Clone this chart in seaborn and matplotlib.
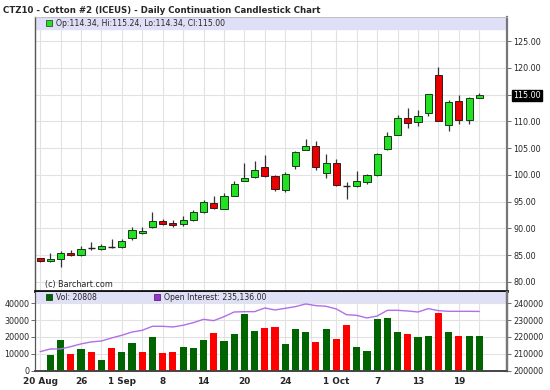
import matplotlib
matplotlib.use("Agg")
import matplotlib.pyplot as plt
import seaborn as sns
import pandas as pd
import numpy as np

# daily cotton CTZ10, 20 Aug .. 21 Oct (trading days)
tick_pos = [0, 4, 8, 12, 16, 20, 24, 29, 33, 37, 41]
tick_labels = ["20 Aug", "26", "1 Sep", "8", "14", "20", "24", "1 Oct", "7", "13", "19"]

opens = [84.4, 83.9, 84.3, 85.4, 85.1, 86.4, 86.2, 86.6, 86.5, 88.2, 89.2, 90.2, 91.3, 91.0, 90.8,
         91.6, 93.0, 94.7, 93.7, 96.1, 98.9, 99.7, 101.4, 99.8, 97.2, 101.6, 104.7, 105.5, 100.3,
         102.2, 98.0, 97.9, 98.7, 99.9, 104.8, 107.5, 110.6, 109.9, 111.5, 118.7, 109.4, 113.8,
         110.2, 114.34]
highs = [84.5, 85.5, 85.8, 85.9, 86.8, 87.4, 87.0, 88.0, 88.0, 90.2, 90.2, 93.0, 91.7, 91.5, 92.4,
         93.5, 95.4, 96.1, 96.6, 98.9, 102.2, 102.6, 103.7, 100.0, 100.6, 104.4, 106.7, 106.3, 103.9,
         103.0, 98.7, 100.7, 100.2, 104.1, 108.0, 111.3, 112.6, 112.1, 115.2, 120.1, 114.1, 115.0,
         114.6, 115.24]
lows = [83.7, 83.8, 82.8, 84.8, 84.9, 86.0, 86.0, 86.3, 86.3, 87.9, 88.9, 90.1, 90.6, 90.2, 90.5,
        91.4, 92.8, 93.7, 93.6, 96.0, 98.8, 99.5, 99.6, 97.0, 96.8, 101.1, 104.6, 101.0, 99.5,
        98.0, 95.5, 97.7, 98.4, 99.8, 104.7, 107.4, 108.8, 109.2, 111.0, 110.0, 108.3, 109.5,
        109.6, 114.34]
closes = [83.9, 84.3, 85.5, 85.1, 86.2, 86.4, 86.7, 86.6, 87.6, 89.7, 89.6, 91.4, 90.9, 90.7, 91.5,
          93.1, 94.9, 93.9, 96.1, 98.4, 99.5, 100.9, 99.8, 97.3, 100.1, 104.2, 105.5, 101.4, 102.2,
          98.2, 98.0, 98.8, 99.9, 104.0, 107.3, 110.6, 109.8, 111.1, 115.1, 110.1, 113.6, 110.3,
          114.4, 115.00]

volume = [0, 9200, 18150, 9800, 12600, 11000, 6000, 13200, 11000, 16400, 11000, 20100, 10400, 11000,
          13800, 13200, 18150, 22300, 17550, 21500, 33600, 23300, 25500, 26100, 15800, 24900, 22700,
          17150, 24900, 18950, 26900, 14200, 11600, 30800, 31400, 23100, 21500, 19950, 20350, 34200,
          23100, 20700, 20700, 20808]
vol_dir = ["up", "up", "up", "down", "up", "down", "up", "down", "up", "up", "down", "up", "down",
           "down", "up", "up", "up", "down", "up", "up", "up", "up", "down", "down", "up", "up", "up",
           "down", "up", "down", "down", "up", "up", "up", "up", "up", "down", "up", "up", "down",
           "up", "down", "up", "up"]
open_interest = [211200, 212800, 212800, 214200, 215800, 217000, 217550, 219350, 220950, 222900,
                 223900, 226300, 226300, 225900, 226900, 228450, 230450, 229650, 232000, 234800,
                 235000, 235000, 237200, 236000, 237000, 238000, 239600, 238600, 238200, 236600,
                 233200, 232800, 231250, 232400, 235800, 235800, 235400, 234800, 236800, 235600,
                 235200, 235200, 235200, 235136]

df = pd.DataFrame({"day": np.arange(len(opens)), "open": opens, "high": highs, "low": lows,
                   "close": closes, "vol": volume, "dir": vol_dir, "oi": open_interest})

sns.set_style("white")
plt.rcParams["font.family"] = ["DejaVu Sans"]

GRID = "#e2e2e2"
STRIP = "#dfe0f8"
CANDLE_UP = "#22e022"
CANDLE_DN = "#e80000"

fig = plt.figure(figsize=(5.5, 3.9), dpi=100)
ax = fig.add_axes([0.0636, 0.2538, 0.858, 0.7022])
axv = fig.add_axes([0.0636, 0.0487, 0.858, 0.2026], sharex=ax)

fig.text(0.006, 0.974, "CTZ10 - Cotton #2 (ICEUS) - Daily Continuation Candlestick Chart",
         fontsize=6.2, fontweight="bold", va="center", ha="left")

minor_pos = [2, 6, 10, 14, 18, 22, 26.5, 31, 35, 39, 43]

# ---- price panel
for a in (ax, axv):
    for xp in tick_pos + minor_pos:
        a.axvline(xp, color=GRID, lw=0.8, zorder=0)

for p in range(80, 130, 5):
    ax.axhline(p, color=GRID, lw=0.8, zorder=0)

up = df[df.close > df.open]
dn = df[df.close < df.open]
flat = df[df.close == df.open]
ax.vlines(df.day, df.low, df.high, color="#333333", lw=0.9, zorder=2)
ax.bar(up.day, up.close - up.open, bottom=up.open, width=0.7, color=CANDLE_UP,
       edgecolor="#1a3a1a", lw=0.7, zorder=3)
ax.bar(dn.day, dn.open - dn.close, bottom=dn.close, width=0.7, color=CANDLE_DN,
       edgecolor="#3a1a1a", lw=0.7, zorder=3)
ax.hlines(flat.close, flat.day - 0.35, flat.day + 0.35, color="#222222", lw=1.0, zorder=3)

ax.set_xlim(-0.5, 45.7)
ax.set_ylim(78.3, 129.5)
ax.axhspan(127.3, 129.5, color=STRIP, zorder=1)
ax.yaxis.tick_right()
ax.set_yticks(np.arange(80, 126, 5))
ax.set_yticklabels([f"{v:.2f}" for v in np.arange(80, 126, 5)], fontsize=5.8)
for lbl in ax.get_yticklabels():
    if lbl.get_text() == "115.00":
        lbl.set_color("white")
        lbl.set_bbox(dict(facecolor="black", edgecolor="black", pad=0.6))
ax.tick_params(axis="y", direction="out", length=3, width=0.6, color="#555555", pad=1.5)
ax.tick_params(axis="x", bottom=False, labelbottom=False)

ax.scatter([0.9], [128.4], marker="s", s=14, color=CANDLE_UP, edgecolor="#1a3a1a", lw=0.5, zorder=4)
ax.text(1.6, 128.4, "Op:114.34, Hi:115.24, Lo:114.34, Cl:115.00", fontsize=5.6, va="center")
ax.text(0.5, 79.6, "(c) Barchart.com", fontsize=5.8, va="center", color="#222222")

for side, lw, col in (("left", 1.0, "#555555"), ("right", 1.6, "#777777"),
                      ("top", 0.6, "#bbbbbb"), ("bottom", 2.0, "#111111")):
    ax.spines[side].set_linewidth(lw)
    ax.spines[side].set_color(col)

# ---- volume panel
for v in range(0, 50000, 10000):
    axv.axhline(v, color=GRID, lw=0.8, zorder=0)
sns.barplot(data=df, x="day", y="vol", hue="dir", palette={"up": "#006400", "down": "#ff0000"},
            native_scale=True, dodge=False, width=0.7, legend=False, ax=axv, zorder=3,
            linewidth=0, saturation=1)
axv.set_ylim(-300, 46700)
axv.axhspan(40600, 46700, color=STRIP, zorder=1)
axv.set_yticks(range(0, 40001, 10000))
axv.set_yticklabels([str(v) for v in range(0, 40001, 10000)], fontsize=5.8)
axv.tick_params(axis="y", direction="out", length=3, width=0.6, color="#555555", pad=1)
axv.set_xticks(tick_pos)
axv.set_xticklabels(tick_labels, fontsize=6.4, fontweight="bold")
axv.tick_params(axis="x", direction="out", length=3, width=0.6, color="#555555", pad=1)
axv.set_xlim(-0.5, 45.7)
axv.set_xlabel("")
axv.set_ylabel("")

ax2 = axv.twinx()
sns.lineplot(data=df, x="day", y="oi", color="#b070e8", lw=1.0, ax=ax2, zorder=4)
ax2.set_ylim(200000 - 300, 246700)
ax2.set_yticks(range(200000, 240001, 10000))
ax2.set_yticklabels([str(v) for v in range(200000, 240001, 10000)], fontsize=5.8)
ax2.tick_params(axis="y", direction="out", length=3, width=0.6, color="#555555", pad=1.5)
ax2.set_ylabel("")

axv.scatter([0.9], [43600], marker="s", s=14, color="#006400", edgecolor="#003300", lw=0.5, zorder=5)
axv.text(1.6, 43600, "Vol: 20808", fontsize=5.6, va="center", zorder=5)
axv.scatter([11.4], [43600], marker="s", s=14, color="#9933cc", edgecolor="#441166", lw=0.5, zorder=5)
axv.text(12.1, 43600, "Open Interest: 235,136.00", fontsize=5.6, va="center", zorder=5)

for a in (axv, ax2):
    a.spines["left"].set_color("#555555")
    a.spines["right"].set_color("#777777")
    a.spines["right"].set_linewidth(1.6)
    a.spines["bottom"].set_color("#444444")
    a.spines["bottom"].set_linewidth(1.2)
    a.spines["top"].set_visible(False)

fig.savefig("out.png", dpi=100)
